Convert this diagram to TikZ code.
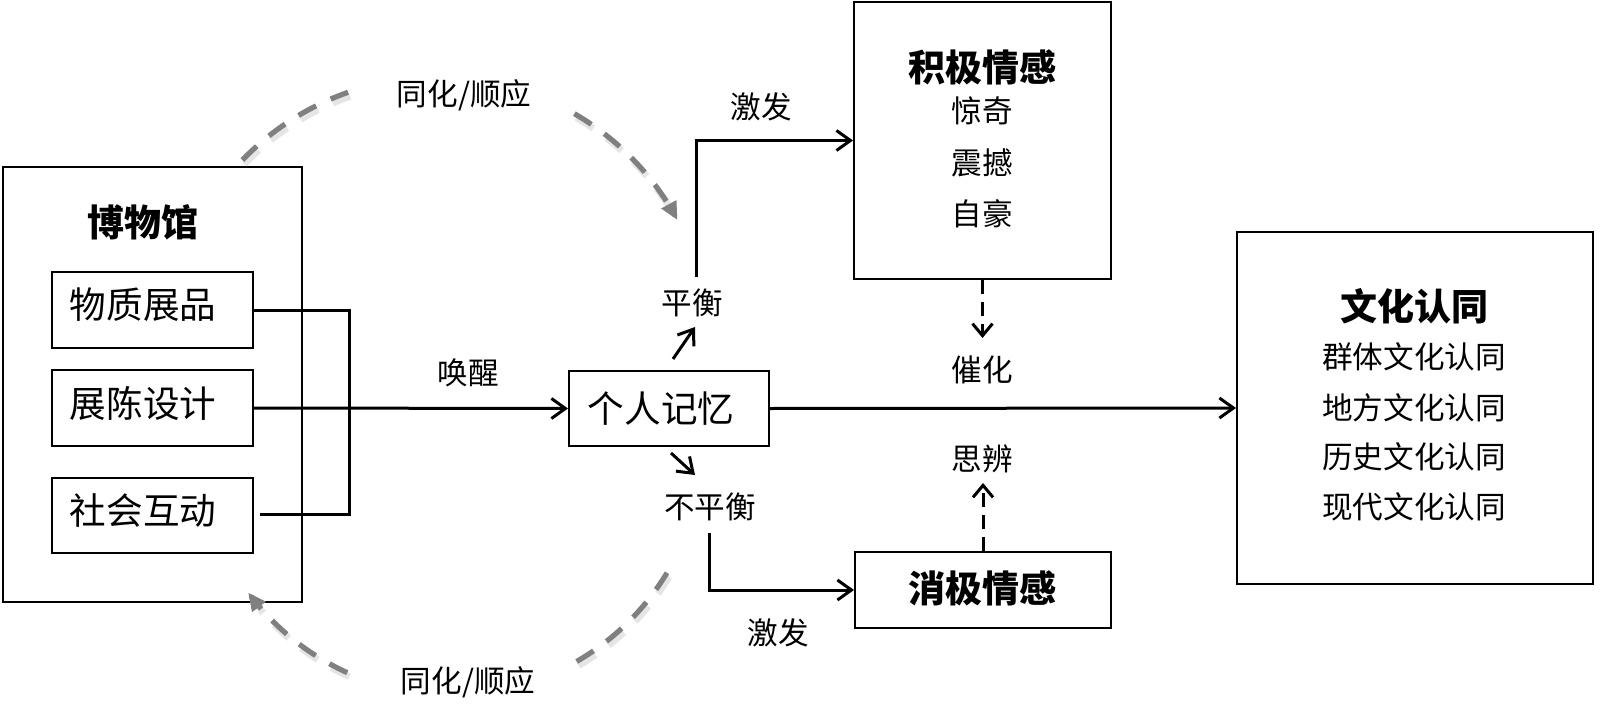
\documentclass[tikz,border=0pt]{standalone}
\usepackage{fontspec}
\setmainfont{Noto Sans CJK SC}
\usetikzlibrary{arrows.meta}
\begin{document}
\begin{tikzpicture}[x=0.5pt,y=-0.5pt,
  box/.style={draw=black,line width=1pt,inner sep=0pt,minimum width=#1},
  conn/.style={line width=1.5pt,line cap=butt},
  arr/.style={line width=1.5pt,-{Straight Barb[length=7pt,width=10pt,line width=1.5pt]}},
  darr/.style={line width=1.5pt,dash pattern=on 7pt off 4pt,-{Straight Barb[length=6pt,width=10pt,line width=1.5pt]}},
  garc/.style={line width=2.6pt,draw=black!50,dash pattern=on 10pt off 8pt},
  gshadow/.style={line width=3.4pt,draw=black!10,dash pattern=on 10pt off 8pt},
  small/.style={font=\fontsize{15.3pt}{18pt}\selectfont,inner sep=0pt},
  big/.style={font=\fontsize{18.3pt}{22pt}\selectfont,inner sep=0pt},
  title/.style={font=\fontsize{18.5pt}{22pt}\selectfont\bfseries,inner sep=0pt}]
\useasboundingbox (0,0) rectangle (1600,717);

% boxes
\node[box=149.5pt,minimum height=217.5pt] (mus) at (152.5,384.5) {};
\node[box=100.5pt,minimum height=38pt] (b1) at (152.5,310) {};
\node[box=100.5pt,minimum height=38pt] (b2) at (152.5,408) {};
\node[box=100.5pt,minimum height=37.5pt] (b3) at (152.5,515.5) {};
\node[box=100pt,minimum height=37.5pt] (mem) at (669,408.5) {};
\node[box=128.5pt,minimum height=138.5pt] (pos) at (982.5,140.5) {};
\node[box=128pt,minimum height=38pt] (neg) at (983,590) {};
\node[box=178pt,minimum height=176pt] (cul) at (1415,408) {};

% texts
\node[title] (tmus) at (143,222) {博物馆};
\node[big] (t1) at (143,305) {物质展品};
\node[big] (t2) at (143,403) {展陈设计};
\node[big] (t3) at (143,511) {社会互动};
\node[big] (tmem) at (661,409) {个人记忆};
\node[title] (tpos) at (982,67) {积极情感};
\node[small] (p1) at (982,111) {惊奇};
\node[small] (p2) at (982,163) {震撼};
\node[small] (p3) at (982,214) {自豪};
\node[title] (tneg) at (982,588) {消极情感};
\node[title] (tcul) at (1414,306) {文化认同};
\node[small] (c1) at (1414,357) {群体文化认同};
\node[small] (c2) at (1414,408) {地方文化认同};
\node[small] (c3) at (1414,457) {历史文化认同};
\node[small] (c4) at (1414,507) {现代文化认同};

\node[small] (wake) at (468,373) {唤醒};
\node[small] (bal) at (692,303) {平衡};
\node[small] (unbal) at (710,507) {不平衡};
\node[small] (ex1) at (761,107) {激发};
\node[small] (ex2) at (778,633) {激发};
\node[small] (cat) at (982,370) {催化};
\node[small] (thk) at (982,459) {思辨};
\node[small] (as1) at (464,95) {同化/顺应};
\node[small] (as2) at (468,682) {同化/顺应};

% bracket
\coordinate (brk) at (349,0);
\coordinate (b3s) at (260,514);
\draw[conn] (b1.east) -- (b1.east -| brk) -- (brk |- b3s) -- (b3s);
\draw[arr] (b2.east) -- (mem.west);
\draw[arr] (mem.east) -- (cul.west);

% balance branches
\draw[arr] ([shift={(4,-11)}]mem.north) -- ([shift={(26,-43)}]mem.north);
\draw[arr] ([shift={(2,6)}]mem.south) -- ([shift={(26,28)}]mem.south);
\coordinate (balup) at (696,277);
\coordinate (unbaldn) at (709,533);
\draw[arr] (balup) |- (pos.west);
\draw[arr] (unbaldn) |- (neg.west);

% dashed arrows
\draw[darr] (pos.south) -- ++(0,58);
\draw[darr] (neg.north) -- ++(0,-68);

% gray arcs (soft shadow first)
\begin{scope}[shift={(2,4)}]
\draw[gshadow] plot[domain=-136:-109.3,samples=30] ({438+272*cos(\x)},{349+272*sin(\x)});
\draw[gshadow] plot[domain=-59.9:-31,samples=30] ({438+272*cos(\x)},{349+272*sin(\x)});
\draw[gshadow] plot[domain=31:60.4,samples=30] ({451+252*cos(\x)},{443+252*sin(\x)});
\draw[gshadow] plot[domain=114.3:140.5,samples=30] ({451+252*cos(\x)},{443+252*sin(\x)});
\end{scope}
\draw[garc] plot[domain=-136:-109.3,samples=30] ({438+272*cos(\x)},{349+272*sin(\x)});
\draw[garc,-{Triangle[length=9pt,width=8pt]}] plot[domain=-59.9:-28.3,samples=30] ({438+272*cos(\x)},{349+272*sin(\x)});
\draw[garc] plot[domain=31:60.4,samples=30] ({451+252*cos(\x)},{443+252*sin(\x)});
\draw[garc,-{Triangle[length=9pt,width=8pt]}] plot[domain=114.3:143.6,samples=30] ({451+252*cos(\x)},{443+252*sin(\x)});
\end{tikzpicture}
\end{document}
